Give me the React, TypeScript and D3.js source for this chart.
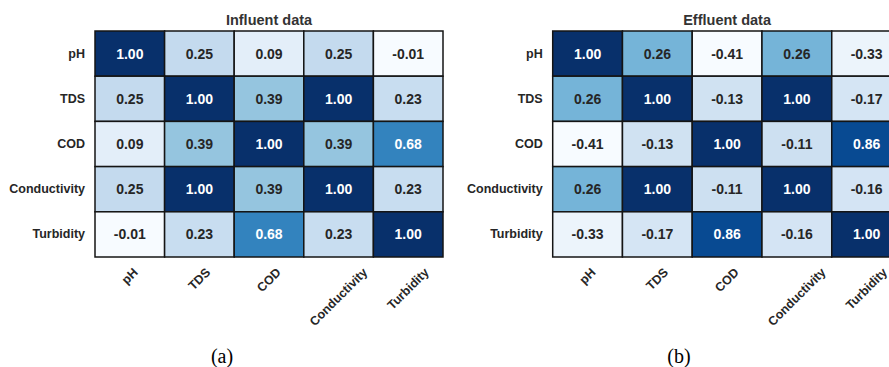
import React, { useEffect, useRef } from "react";
import * as d3 from "d3";

const W = 889;
const H = 367;

const variables = ["pH", "TDS", "COD", "Conductivity", "Turbidity"];

const influent = [
  [1.0, 0.25, 0.09, 0.25, -0.01],
  [0.25, 1.0, 0.39, 1.0, 0.23],
  [0.09, 0.39, 1.0, 0.39, 0.68],
  [0.25, 1.0, 0.39, 1.0, 0.23],
  [-0.01, 0.23, 0.68, 0.23, 1.0],
];

const effluent = [
  [1.0, 0.26, -0.41, 0.26, -0.33],
  [0.26, 1.0, -0.13, 1.0, -0.17],
  [-0.41, -0.13, 1.0, -0.11, 0.86],
  [0.26, 1.0, -0.11, 1.0, -0.16],
  [-0.33, -0.17, 0.86, -0.16, 1.0],
];

const titles = ["Influent data", "Effluent data"];
const captions = ["(a)", "(b)"];

// Piecewise-linear "Blues" colour ramp
const bluesStops = [
  "#f7fbff", "#deebf7", "#c6dbef", "#9ecae1", "#6baed6",
  "#4292c6", "#2171b5", "#08519c", "#08306b",
];

function makeBlues(vmin: number, vmax: number) {
  const n = bluesStops.length - 1;
  const s = d3
    .scaleLinear<string>()
    .domain(bluesStops.map((_, i) => vmin + ((vmax - vmin) * i) / n))
    .range(bluesStops)
    .interpolate(d3.interpolateRgb)
    .clamp(true);
  return s;
}

function luminance(c: string) {
  const rgb = d3.rgb(c);
  const lin = (v: number) => {
    const x = v / 255;
    return x <= 0.03928 ? x / 12.92 : Math.pow((x + 0.055) / 1.055, 2.4);
  };
  return 0.2126 * lin(rgb.r) + 0.7152 * lin(rgb.g) + 0.0722 * lin(rgb.b);
}

const FONT = "'Liberation Sans', Arial, sans-serif";
const TEXT_DARK = "#262626";

export default function App() {
  const ref = useRef<SVGSVGElement | null>(null);

  useEffect(() => {
    const svg = d3.select(ref.current);
    svg.selectAll("*").remove();

    const panels = [
      { data: influent, x0: 95, x1: 443, caption: 222 },
      { data: effluent, x0: 552.7, x1: 901.5, caption: 679 },
    ];
    const y = d3.scaleBand<string>().domain(variables).range([31, 257]);

    panels.forEach((p, pi) => {
      const flat = p.data.flat();
      const color = makeBlues(d3.min(flat)!, d3.max(flat)!);
      const x = d3.scaleBand<string>().domain(variables).range([p.x0, p.x1]);
      const g = svg.append("g");

      const cells = p.data.flatMap((row, ri) =>
        row.map((v, ci) => ({ r: variables[ri], c: variables[ci], v }))
      );

      g.selectAll("rect.cell")
        .data(cells)
        .join("rect")
        .attr("class", "cell")
        .attr("x", (d) => x(d.c)!)
        .attr("y", (d) => y(d.r)!)
        .attr("width", x.bandwidth())
        .attr("height", y.bandwidth())
        .attr("fill", (d) => color(d.v))
        .attr("stroke", "#141414")
        .attr("stroke-width", 1.5);

      g.selectAll("text.val")
        .data(cells)
        .join("text")
        .attr("class", "val")
        .attr("x", (d) => x(d.c)! + x.bandwidth() / 2)
        .attr("y", (d) => y(d.r)! + y.bandwidth() / 2)
        .attr("text-anchor", "middle")
        .attr("dominant-baseline", "central")
        .attr("font-family", FONT)
        .attr("font-weight", "bold")
        .attr("font-size", 14)
        .attr("fill", (d) => (luminance(color(d.v)) > 0.408 ? TEXT_DARK : "#ffffff"))
        .text((d) => d.v.toFixed(2));

      // row labels
      g.selectAll("text.row")
        .data(variables)
        .join("text")
        .attr("class", "row")
        .attr("x", p.x0 - 10)
        .attr("y", (d) => y(d)! + y.bandwidth() / 2)
        .attr("text-anchor", "end")
        .attr("dominant-baseline", "central")
        .attr("font-family", FONT)
        .attr("font-weight", "bold")
        .attr("font-size", 12.5)
        .attr("fill", TEXT_DARK)
        .text((d) => d);

      // rotated column labels, bounding box centred under each column
      const fs = 12.5;
      const top = 267;
      const colLabels = g
        .selectAll("text.col")
        .data(variables)
        .join("text")
        .attr("class", "col")
        .attr("text-anchor", "middle")
        .attr("dominant-baseline", "central")
        .attr("font-family", FONT)
        .attr("font-weight", "bold")
        .attr("font-size", fs)
        .attr("fill", TEXT_DARK)
        .text((d) => d);
      colLabels.each(function (d) {
        const el = this as SVGTextElement;
        const w = el.getComputedTextLength();
        const h = fs * 0.75;
        const half = (w + h) / (2 * Math.SQRT2);
        const cx = x(d)! + x.bandwidth() / 2;
        d3.select(el).attr(
          "transform",
          `translate(${cx},${top + half}) rotate(-45)`
        );
      });

      // title
      g.append("text")
        .attr("x", (p.x0 + p.x1) / 2)
        .attr("y", 25)
        .attr("text-anchor", "middle")
        .attr("font-family", FONT)
        .attr("font-weight", "bold")
        .attr("font-size", 14.5)
        .attr("fill", "#333333")
        .text(titles[pi]);

      // caption
      g.append("text")
        .attr("x", p.caption)
        .attr("y", 363)
        .attr("text-anchor", "middle")
        .attr("font-family", "'Liberation Serif', 'DejaVu Serif', serif")
        .attr("font-size", 20)
        .attr("fill", "#000000")
        .text(captions[pi]);
    });
  }, []);

  return (
    <svg
      ref={ref}
      width={W}
      height={H}
      style={{ position: "absolute", left: 0, top: 0, background: "#ffffff" }}
    />
  );
}
